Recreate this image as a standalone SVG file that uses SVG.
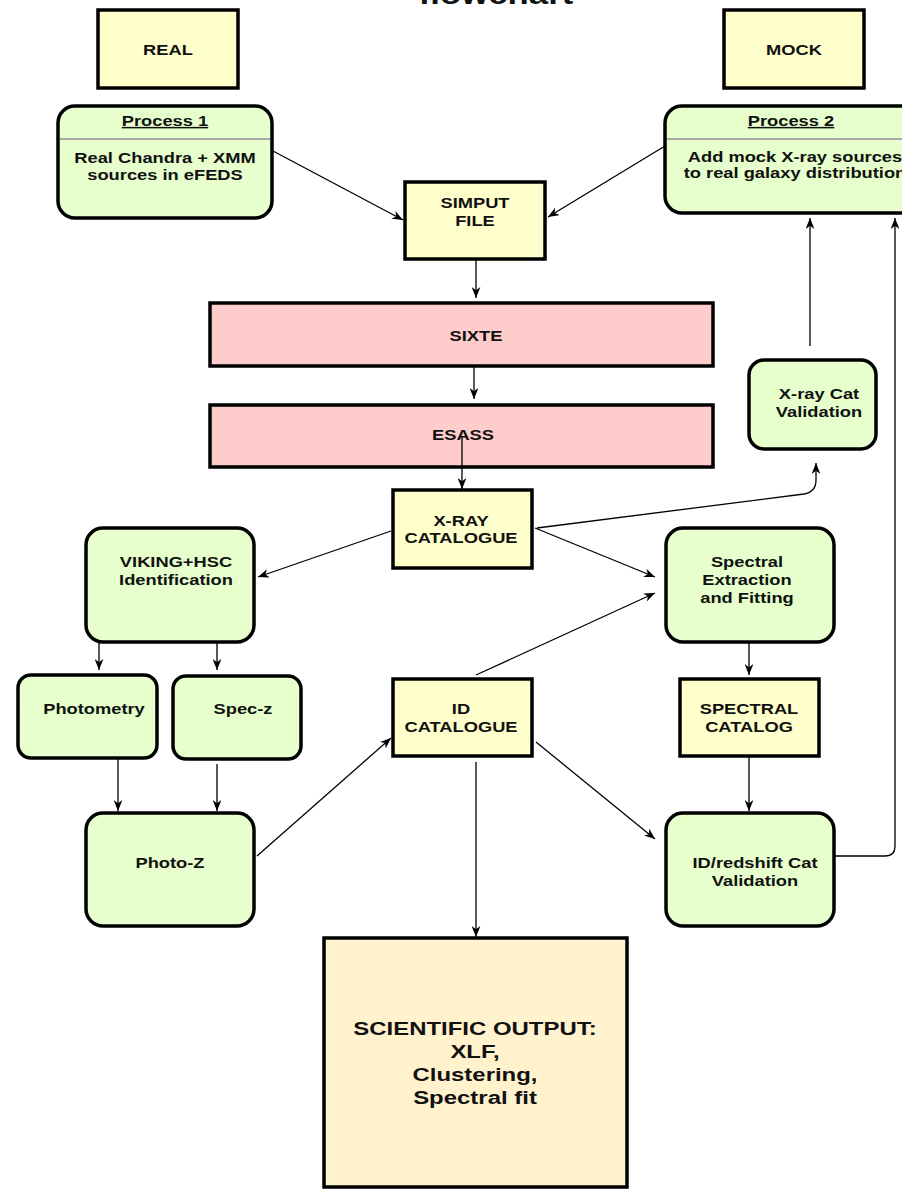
<svg xmlns="http://www.w3.org/2000/svg" width="902" height="1189" viewBox="0 0 902 1189">
<style>
text{font-family:"Liberation Sans",Arial,Helvetica,sans-serif;font-weight:bold;font-size:15px;text-anchor:middle;fill:#111}
.box{stroke:#000;stroke-width:3.5}
.yel{fill:#ffffcc}
.grn{fill:#e6ffcc}
.pnk{fill:#ffcccc}
.sci{fill:#fff2cc}
.sep{stroke:#a8a8a8;stroke-width:2}
.big{font-size:19px}
.ttl{font-size:28.5px}
.con path{fill:none;stroke:#000;stroke-width:1.3;marker-end:url(#ah)}
</style>
<defs>
<marker id="ah" viewBox="0 0 10 8" refX="10" refY="4" markerWidth="11" markerHeight="9" markerUnits="userSpaceOnUse" orient="auto">
<path d="M0,0 L10,4 L0,8 L3,4 Z" fill="#000"/>
</marker>
</defs>
<rect width="902" height="1189" fill="#fff"/>

<g id="title"><g transform="translate(496 0) scale(1.22 1)"><text class="ttl" x="0" y="4">flowchart</text></g></g>

<g id="real"><rect class="box yel" x="98" y="10" width="140" height="78"/>
<g transform="translate(168 0) scale(1.22 1)"><text x="0" y="55">REAL</text></g></g>

<g id="mock"><rect class="box yel" x="724" y="10" width="140" height="78"/>
<g transform="translate(794 0) scale(1.22 1)"><text x="0" y="55">MOCK</text></g></g>

<g id="process1"><rect class="box grn" x="58" y="106" width="214" height="112" rx="17"/>
<line class="sep" x1="60" y1="139" x2="270" y2="139"/>
<g transform="translate(165 0) scale(1.22 1)"><text x="0" y="126" text-decoration="underline">Process 1</text>
<text x="0" y="163">Real Chandra + XMM</text><text x="0" y="180">sources in eFEDS</text></g></g>

<g id="process2"><rect class="box grn" x="665" y="106" width="262" height="107" rx="17"/>
<line class="sep" x1="667" y1="139" x2="902" y2="139"/>
<g transform="translate(791 0) scale(1.22 1)"><text x="0" y="126" text-decoration="underline">Process 2</text></g>
<g transform="translate(795 0) scale(1.22 1)"><text x="0" y="162">Add mock X-ray sources</text><text x="0" y="178">to real galaxy distribution</text></g></g>

<g id="simput"><rect class="box yel" x="405" y="182" width="140" height="77"/>
<g transform="translate(475 0) scale(1.22 1)"><text x="0" y="208">SIMPUT</text><text x="0" y="226">FILE</text></g></g>

<g id="sixte"><rect class="box pnk" x="210" y="303" width="503" height="63"/>
<g transform="translate(476 0) scale(1.22 1)"><text x="0" y="341">SIXTE</text></g></g>

<g id="esass"><rect class="box pnk" x="210" y="405" width="503" height="62"/>
<g transform="translate(463 0) scale(1.22 1)"><text x="0" y="440">ESASS</text></g></g>

<g id="xraycat"><rect class="box yel" x="393" y="490" width="139" height="78"/>
<g transform="translate(461 0) scale(1.22 1)"><text x="0" y="526">X-RAY</text><text x="0" y="543">CATALOGUE</text></g></g>

<g id="xrayval"><rect class="box grn" x="749" y="360" width="127" height="89" rx="15"/>
<g transform="translate(819 0) scale(1.22 1)"><text x="0" y="399">X-ray Cat</text><text x="0" y="417">Validation</text></g></g>

<g id="viking"><rect class="box grn" x="86" y="528" width="168" height="114" rx="17"/>
<g transform="translate(176 0) scale(1.22 1)"><text x="0" y="567">VIKING+HSC</text><text x="0" y="585">Identification</text></g></g>

<g id="spectral"><rect class="box grn" x="666" y="528" width="168" height="114" rx="17"/>
<g transform="translate(747 0) scale(1.22 1)"><text x="0" y="567">Spectral</text><text x="0" y="585">Extraction</text><text x="0" y="603">and Fitting</text></g></g>

<g id="photometry"><rect class="box grn" x="18" y="675" width="139" height="83" rx="13"/>
<g transform="translate(94 0) scale(1.22 1)"><text x="0" y="714">Photometry</text></g></g>

<g id="specz"><rect class="box grn" x="173" y="676" width="128" height="83" rx="13"/>
<g transform="translate(243 0) scale(1.22 1)"><text x="0" y="714">Spec-z</text></g></g>

<g id="photoz"><rect class="box grn" x="86" y="813" width="168" height="113" rx="17"/>
<g transform="translate(170 0) scale(1.22 1)"><text x="0" y="868">Photo-Z</text></g></g>

<g id="idcat"><rect class="box yel" x="393" y="679" width="139" height="77"/>
<g transform="translate(461 0) scale(1.22 1)"><text x="0" y="714">ID</text><text x="0" y="732">CATALOGUE</text></g></g>

<g id="speccat"><rect class="box yel" x="680" y="679" width="139" height="77"/>
<g transform="translate(749 0) scale(1.22 1)"><text x="0" y="714">SPECTRAL</text><text x="0" y="732">CATALOG</text></g></g>

<g id="idval"><rect class="box grn" x="666" y="813" width="168" height="113" rx="17"/>
<g transform="translate(755 0) scale(1.22 1)"><text x="0" y="868">ID/redshift Cat</text><text x="0" y="886">Validation</text></g></g>

<g id="science"><rect class="box sci" x="324" y="938" width="303" height="249"/>
<g transform="translate(475 0) scale(1.26 1)"><text class="big" x="0" y="1035">SCIENTIFIC OUTPUT:</text><text class="big" x="0" y="1058">XLF,</text><text class="big" x="0" y="1081">Clustering,</text><text class="big" x="0" y="1104">Spectral fit</text></g></g>

<g id="connectors" class="con">
<path d="M273,151 L403,220"/>
<path d="M665,146 L548,217"/>
<path d="M476,259 L476,298"/>
<path d="M474,367 L474,399"/>
<path d="M462,436 L462,489"/>
<path d="M391,531 L258,577"/>
<path d="M535,528 L655,577"/>
<path d="M537,528 L804,494 Q816,492 816,480 L816,463"/>
<path d="M810,346 L810,218"/>
<path d="M99,643 L99,670"/>
<path d="M217,643 L217,670"/>
<path d="M118,759 L118,811"/>
<path d="M217,764 L217,811"/>
<path d="M257,856 L391,738"/>
<path d="M476,675 L655,593"/>
<path d="M536,742 L655,839"/>
<path d="M476,762 L476,937"/>
<path d="M749,643 L749,675"/>
<path d="M749,757 L749,811"/>
<path d="M834,856 L885,856 Q895,856 895,846 L895,218"/>
</g>
</svg>
